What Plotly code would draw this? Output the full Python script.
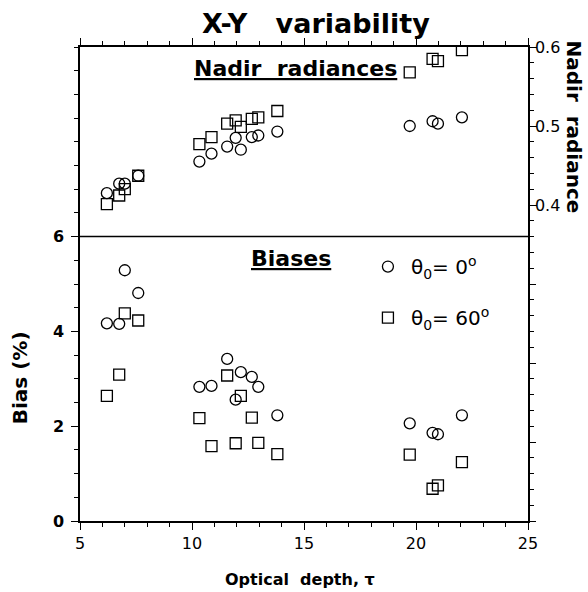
import plotly.graph_objects as go

# ---- data ----
tau = [6.2, 6.75, 7.0, 7.6, 10.33, 10.87, 11.57, 11.95, 12.18, 12.67, 12.96, 13.81,
       19.72, 20.74, 20.98, 22.05]
rad_0 = [0.415, 0.427, 0.427, 0.437, 0.455, 0.465, 0.474, 0.485, 0.470, 0.486, 0.488, 0.493,
         0.500, 0.506, 0.503, 0.511]
rad_60 = [0.401, 0.412, 0.420, 0.437, 0.477, 0.486, 0.503, 0.507, 0.499, 0.509, 0.511, 0.519,
          0.568, 0.585, 0.582, 0.596]
bias_0 = [4.17, 4.16, 5.29, 4.81, 2.83, 2.85, 3.42, 2.56, 3.14, 3.04, 2.83, 2.23,
          2.06, 1.86, 1.83, 2.23]
bias_60 = [2.64, 3.09, 4.38, 4.23, 2.17, 1.58, 3.07, 1.64, 2.64, 2.18, 1.65, 1.41,
           1.40, 0.68, 0.75, 1.24]

x_ticks = [5, 10, 15, 20, 25]
bias_ticks = [0, 2, 4, 6]
rad_label_ticks = [0.4, 0.5, 0.6]
rad_plain_ticks = [0.0, 0.1, 0.2, 0.3]

FONT = "DejaVu Sans"
circ = dict(symbol="circle-open", size=11, color="black", line=dict(width=1.3, color="black"))
sq = dict(symbol="square-open", size=11, color="black", line=dict(width=1.3, color="black"))

fig = go.Figure()
fig.add_trace(go.Scatter(x=tau, y=bias_0, mode="markers", marker=circ,
                         name="θ<sub>0</sub>= 0<sup>o</sup>", legendgroup="a"))
fig.add_trace(go.Scatter(x=tau, y=bias_60, mode="markers", marker=sq,
                         name="θ<sub>0</sub>= 60<sup>o</sup>", legendgroup="b"))
fig.add_trace(go.Scatter(x=tau, y=rad_0, mode="markers", marker=circ, yaxis="y2",
                         showlegend=False, legendgroup="a"))
fig.add_trace(go.Scatter(x=tau, y=rad_60, mode="markers", marker=sq, yaxis="y2",
                         showlegend=False, legendgroup="b"))
# carriers for the extra (unlabelled) axes
fig.add_trace(go.Scatter(x=[], y=[], xaxis="x2", showlegend=False, hoverinfo="skip"))
fig.add_trace(go.Scatter(x=[], y=[], yaxis="y3", showlegend=False, hoverinfo="skip"))

axis_common = dict(showline=True, linecolor="black", linewidth=1.5, ticks="outside",
                   tickcolor="black", tickwidth=1.3, ticklen=7, showgrid=False,
                   zeroline=False)
minor_x = dict(dtick=1, ticklen=4, ticks="outside", tickcolor="black", tickwidth=1.2)

fig.update_layout(
    width=588, height=592,
    margin=dict(l=80, r=60, t=47, b=71),
    paper_bgcolor="white", plot_bgcolor="white",
    font=dict(family=FONT, color="black", size=16),
    xaxis=dict(range=[5, 25], tickvals=x_ticks, **axis_common, minor=minor_x,
               tickfont=dict(size=16)),
    xaxis2=dict(range=[5, 25], overlaying="x", side="top", anchor="y", tickvals=x_ticks,
                showticklabels=False, **axis_common, minor=minor_x),
    yaxis=dict(range=[0, 10], tickvals=bias_ticks, **axis_common,
               minor=dict(dtick=0.5, ticklen=4, ticks="outside", tickcolor="black", tickwidth=1.2),
               tickfont=dict(size=16, weight="bold"), ticklabelstandoff=4),
    yaxis2=dict(range=[0, 0.6], overlaying="y", side="right", anchor="x",
                tickvals=rad_label_ticks, **axis_common,
                minor=dict(dtick=0.02, ticklen=4, ticks="outside", tickcolor="black", tickwidth=1.2),
                tickfont=dict(size=16), ticklabelstandoff=-5),
    yaxis3=dict(range=[0, 0.6], overlaying="y", side="right", anchor="x",
                tickvals=rad_plain_ticks, showticklabels=False, showline=False,
                ticks="outside", tickcolor="black", tickwidth=1.3, ticklen=7,
                showgrid=False, zeroline=False),
    legend=dict(x=0.636, y=0.578, xanchor="left", yanchor="top", bgcolor="rgba(0,0,0,0)",
                font=dict(family=FONT, size=20), traceorder="grouped", tracegroupgap=22,
                itemwidth=36),
    showlegend=True,
)

fig.add_shape(type="line", xref="paper", x0=0, x1=1, yref="y", y0=6, y1=6,
              line=dict(color="black", width=1.5))

ann = [
    dict(text="X-Y   variability", x=0.527, y=1.049, font=dict(size=27, weight="bold")),
    dict(text="<u>Nadir  radiances</u>", x=0.481, y=0.954, font=dict(size=22, weight="bold")),
    dict(text="<u>Biases</u>", x=0.471, y=0.553, font=dict(size=22, weight="bold")),
    dict(text="Bias (%)", x=-0.132, y=0.303, textangle=-90, font=dict(size=20, weight="bold")),
    dict(text="Nadir  radiance", x=1.103, y=0.832, textangle=90, font=dict(size=20, weight="bold")),
    dict(text="Optical  depth, τ", x=0.49, y=-0.124, font=dict(size=16, weight="bold")),
]
for a in ann:
    fig.add_annotation(xref="paper", yref="paper", showarrow=False,
                       xanchor="center", yanchor="middle", **a)

fig.write_html("out.html")
